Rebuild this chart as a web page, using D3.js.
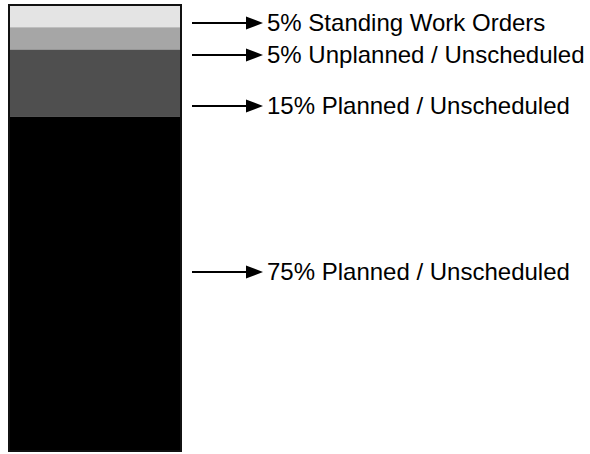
<!DOCTYPE html>
<html>
<head>
<meta charset="utf-8">
<script src="https://cdn.jsdelivr.net/npm/d3@7"></script>
<style>
  html, body { margin: 0; padding: 0; background: #fff; }
  svg { display: block; }
</style>
</head>
<body>
<svg id="chart" width="590" height="454"></svg>
<script>
// Work order mix, stacked top to bottom
const categories = ["Standing Work Orders", "Unplanned / Unscheduled", "Planned / Unscheduled", "Planned / Unscheduled"];
const shares = [5, 5, 15, 75];
const fills = ["#e4e4e4", "#a6a6a6", "#4f4f4f", "#000000"];
// vertical position of each callout arrow
const calloutY = [23, 55, 106, 272];

const svg = d3.select("#chart");
const bar = { x: 9, y: 5, w: 172, h: 446 };

// cumulative stacking
const rows = categories.map((c, i) => ({ c, v: shares[i], fill: fills[i], cy: calloutY[i] }));
let acc = 0;
rows.forEach(r => { r.y0 = acc; acc += r.v; r.y1 = acc; });

const y = d3.scaleLinear().domain([0, d3.sum(shares)]).range([bar.y, bar.y + bar.h]);

svg.selectAll("rect.seg")
  .data(rows)
  .join("rect")
  .attr("class", "seg")
  .attr("x", bar.x)
  .attr("width", bar.w)
  .attr("y", d => y(d.y0))
  .attr("height", d => y(d.y1) - y(d.y0))
  .attr("fill", d => d.fill);

// outline of the whole bar
svg.append("rect")
  .attr("x", bar.x).attr("y", bar.y)
  .attr("width", bar.w).attr("height", bar.h)
  .attr("fill", "none")
  .attr("stroke", "#111")
  .attr("stroke-width", 2);

// callouts
const ax0 = 192, ax1 = 248, tip = 263, headH = 13;
const g = svg.selectAll("g.callout")
  .data(rows)
  .join("g")
  .attr("class", "callout")
  .attr("transform", d => `translate(0,${d.cy})`);

g.append("line")
  .attr("x1", ax0).attr("x2", ax1)
  .attr("y1", 0).attr("y2", 0)
  .attr("stroke", "#000")
  .attr("stroke-width", 2);

g.append("path")
  .attr("d", `M${tip - 17},${-headH / 2}L${tip},0L${tip - 17},${headH / 2}Z`)
  .attr("fill", "#000");

g.append("text")
  .attr("x", 267)
  .attr("y", 8)
  .attr("font-family", "Liberation Sans, Arial, Helvetica, sans-serif")
  .attr("font-size", 24)
  .attr("fill", "#000")
  .text(d => `${d.v}% ${d.c}`);
</script>
</body>
</html>
